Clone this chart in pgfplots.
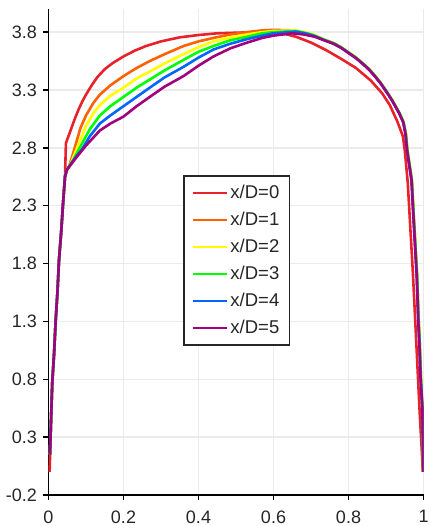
\documentclass[border=0pt]{standalone}
\usepackage{pgfplots}
\pgfplotsset{compat=1.18}
\usepackage{fontspec}
\setmainfont{Liberation Sans}

\definecolor{cRed}{HTML}{E8222A}
\definecolor{cOrange}{HTML}{FF6000}
\definecolor{cYellow}{HTML}{FFFF00}
\definecolor{cGreen}{HTML}{00FF00}
\definecolor{cBlue}{HTML}{0066FF}
\definecolor{cPurple}{HTML}{A0007F}
\definecolor{gridgray}{HTML}{EBEBEB}

\begin{document}
\begin{tikzpicture}
\useasboundingbox (-48.5pt,-31pt) rectangle (380.5pt,495pt);
\begin{axis}[
  at={(0,0)}, anchor=south west,
  scale only axis,
  width=375pt, height=486pt,
  xmin=0, xmax=1, ymin=-0.2, ymax=4.0,
  axis lines*=left,
  axis line style={-, black, line width=1.5pt},
  xtick={0,0.2,0.4,0.6,0.8,1},
  xticklabels={0,0.2,0.4,0.6,0.8,1},
  ytick={-0.2,0.3,0.8,1.3,1.8,2.3,2.8,3.3,3.8},
  yticklabels={-0.2,0.3,0.8,1.3,1.8,2.3,2.8,3.3,3.8},
  tick align=outside,
  major tick length=5pt,
  tick style={black, line width=1.5pt},
  grid=major,
  grid style={draw=gridgray, line width=1.5pt},
  ticklabel style={font=\fontsize{18}{20}\selectfont, text=black!85},
  xticklabel style={yshift=-7pt},
  yticklabel style={xshift=-3pt},
  legend cell align=left,
  legend image code/.code={\draw[#1] (0pt,0pt) -- (34pt,0pt);},
  legend style={at={(axis cs:0.359,2.563)}, anchor=north west,
    draw=black!85, line width=1.5pt, fill=white,
    font=\fontsize{18.5}{20}\selectfont, text=black!85,
    inner xsep=8pt, inner ysep=7pt, row sep=7pt,
    nodes={inner xsep=2pt, inner ysep=2pt, text height=13pt, text depth=3pt}},
  every axis plot/.append style={line width=2.6pt, line join=round},
]
\addplot[cRed] coordinates {
(0.003,0.0) (0.007,0.47) (0.010,0.77) (0.015,1.03) (0.019,1.30) (0.024,1.56)
(0.028,1.83) (0.034,2.08) (0.039,2.33) (0.044,2.55) (0.0465,2.84) (0.052,2.89)
(0.06,2.96) (0.07,3.05) (0.08,3.13) (0.09,3.20) (0.10,3.26) (0.115,3.34)
(0.13,3.41) (0.15,3.48) (0.17,3.53) (0.20,3.59) (0.23,3.64) (0.26,3.68)
(0.30,3.72) (0.35,3.755) (0.40,3.775) (0.45,3.79) (0.50,3.795) (0.55,3.80)
(0.60,3.80) (0.63,3.785) (0.66,3.76) (0.70,3.71) (0.74,3.645) (0.78,3.57)
(0.82,3.49) (0.86,3.38) (0.89,3.27) (0.91,3.17) (0.93,3.03) (0.945,2.90)
(0.950,2.78) (0.958,2.5) (0.965,2.1) (0.972,1.7) (0.978,1.3) (0.984,0.9)
(0.99,0.5) (0.996,0.15) (0.998,0.0)
};
\addlegendentry{x/D=0}
\addplot[cOrange] coordinates {
(0.004,0.15) (0.007,0.47) (0.010,0.77) (0.015,1.03) (0.019,1.30) (0.024,1.56)
(0.028,1.83) (0.034,2.08) (0.039,2.33) (0.044,2.55) (0.049,2.61) (0.055,2.64)
(0.07,2.80) (0.085,2.97) (0.1,3.08) (0.12,3.19) (0.137,3.26) (0.165,3.34)
(0.2,3.42) (0.235,3.49) (0.27,3.55) (0.31,3.61) (0.36,3.68) (0.40,3.72)
(0.44,3.75) (0.485,3.78) (0.53,3.80) (0.57,3.815) (0.60,3.82) (0.65,3.815)
(0.68,3.795) (0.71,3.77) (0.735,3.735) (0.76,3.705) (0.78,3.67) (0.80,3.625)
(0.82,3.58) (0.84,3.525) (0.855,3.48) (0.87,3.425) (0.885,3.365) (0.90,3.295)
(0.917,3.21) (0.936,3.10) (0.947,3.02) (0.953,2.92) (0.957,2.78) (0.969,2.52)
(0.973,2.27) (0.978,1.98) (0.983,1.69) (0.987,1.31) (0.990,1.11) (0.993,0.82)
(0.997,0.54) (0.999,0.15) (0.9995,0.0)
};
\addlegendentry{x/D=1}
\addplot[cYellow] coordinates {
(0.004,0.15) (0.007,0.47) (0.010,0.77) (0.015,1.03) (0.019,1.30) (0.024,1.56)
(0.028,1.83) (0.034,2.08) (0.039,2.33) (0.044,2.55) (0.049,2.61) (0.06,2.67)
(0.08,2.83) (0.1,2.99) (0.12,3.10) (0.137,3.17) (0.165,3.25) (0.2,3.32)
(0.235,3.40) (0.27,3.46) (0.31,3.53) (0.36,3.61) (0.40,3.67) (0.44,3.72)
(0.485,3.755) (0.53,3.78) (0.57,3.80) (0.60,3.81) (0.66,3.815) (0.69,3.795)
(0.71,3.775) (0.735,3.735) (0.76,3.705) (0.78,3.67) (0.80,3.625) (0.82,3.58)
(0.84,3.525) (0.855,3.48) (0.87,3.425) (0.885,3.365) (0.90,3.295) (0.917,3.21)
(0.936,3.10) (0.947,3.02) (0.953,2.92) (0.957,2.78) (0.969,2.52) (0.973,2.27)
(0.978,1.98) (0.983,1.69) (0.987,1.31) (0.990,1.11) (0.993,0.82) (0.997,0.54)
(0.999,0.15) (0.9995,0.0)
};
\addlegendentry{x/D=2}
\addplot[cGreen] coordinates {
(0.004,0.15) (0.007,0.47) (0.010,0.77) (0.015,1.03) (0.019,1.30) (0.024,1.56)
(0.028,1.83) (0.034,2.08) (0.039,2.33) (0.044,2.55) (0.049,2.61) (0.065,2.69)
(0.085,2.81) (0.11,2.96) (0.137,3.08) (0.165,3.16) (0.2,3.24) (0.235,3.32)
(0.27,3.39) (0.31,3.47) (0.36,3.56) (0.40,3.63) (0.44,3.68) (0.485,3.73)
(0.53,3.76) (0.57,3.79) (0.60,3.80) (0.66,3.81) (0.69,3.79) (0.71,3.77)
(0.735,3.735) (0.76,3.705) (0.78,3.67) (0.80,3.625) (0.82,3.58) (0.84,3.525)
(0.855,3.48) (0.87,3.425) (0.885,3.365) (0.90,3.295) (0.917,3.21) (0.936,3.10)
(0.947,3.02) (0.953,2.92) (0.957,2.78) (0.969,2.52) (0.973,2.27) (0.978,1.98)
(0.983,1.69) (0.987,1.31) (0.990,1.11) (0.993,0.82) (0.997,0.54) (0.999,0.15)
(0.9995,0.0)
};
\addlegendentry{x/D=3}
\addplot[cBlue] coordinates {
(0.004,0.15) (0.007,0.47) (0.010,0.77) (0.015,1.03) (0.019,1.30) (0.024,1.56)
(0.028,1.83) (0.034,2.08) (0.039,2.33) (0.044,2.55) (0.049,2.61) (0.07,2.71)
(0.09,2.79) (0.11,2.90) (0.137,3.01) (0.165,3.08) (0.2,3.16) (0.235,3.24)
(0.27,3.32) (0.31,3.41) (0.36,3.50) (0.40,3.58) (0.44,3.65) (0.485,3.70)
(0.53,3.74) (0.57,3.77) (0.60,3.79) (0.66,3.805) (0.69,3.785) (0.71,3.765)
(0.735,3.73) (0.76,3.70) (0.78,3.665) (0.80,3.62) (0.82,3.575) (0.84,3.52)
(0.855,3.475) (0.87,3.42) (0.885,3.36) (0.90,3.29) (0.916,3.21) (0.935,3.10)
(0.946,3.02) (0.952,2.92) (0.956,2.78) (0.968,2.52) (0.972,2.27) (0.977,1.98)
(0.982,1.69) (0.986,1.31) (0.989,1.11) (0.992,0.82) (0.997,0.54) (0.999,0.15)
(0.9995,0.0)
};
\addlegendentry{x/D=4}
\addplot[cPurple] coordinates {
(0.004,0.15) (0.007,0.47) (0.010,0.77) (0.015,1.03) (0.019,1.30) (0.024,1.56)
(0.028,1.83) (0.034,2.08) (0.039,2.33) (0.044,2.55) (0.049,2.61) (0.075,2.72)
(0.1,2.82) (0.12,2.89) (0.137,2.95) (0.165,3.01) (0.2,3.07) (0.235,3.16)
(0.27,3.24) (0.31,3.33) (0.36,3.42) (0.40,3.51) (0.44,3.59) (0.485,3.66)
(0.53,3.71) (0.57,3.75) (0.60,3.77) (0.65,3.79) (0.68,3.78) (0.71,3.76)
(0.735,3.73) (0.76,3.70) (0.78,3.665) (0.80,3.62) (0.82,3.575) (0.84,3.52)
(0.855,3.475) (0.87,3.42) (0.885,3.36) (0.90,3.29) (0.916,3.21) (0.935,3.10)
(0.946,3.02) (0.952,2.92) (0.956,2.78) (0.968,2.52) (0.972,2.27) (0.977,1.98)
(0.982,1.69) (0.986,1.31) (0.989,1.11) (0.992,0.82) (0.997,0.54) (0.999,0.15)
(0.9995,0.0)
};
\addlegendentry{x/D=5}
\end{axis}
\end{tikzpicture}
\end{document}
